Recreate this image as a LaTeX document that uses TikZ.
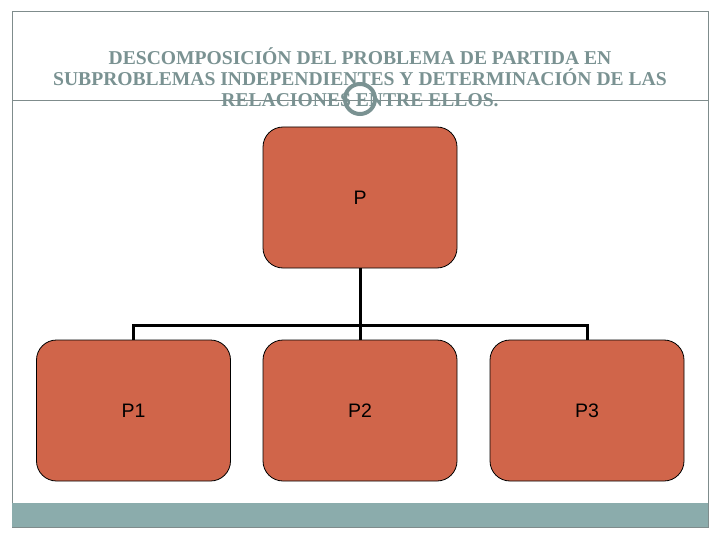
\documentclass[tikz,border=0pt]{standalone}
\usepackage{fontspec}
\setmainfont{Liberation Serif}
\newfontfamily\boxfont{Liberation Sans}
\definecolor{framegray}{HTML}{7F8C8C}
\definecolor{titlegray}{HTML}{7A9292}
\definecolor{boxred}{HTML}{D0654A}
\definecolor{bandteal}{HTML}{8BACAC}
\begin{document}
\begin{tikzpicture}[x=1pt,y=-1pt,
  pbox/.style={draw=black, line width=0.8pt, fill=boxred, rounded corners=20pt,
    minimum width=194pt, minimum height=141pt, inner sep=0pt,
    font=\boxfont\fontsize{19.5}{22}\selectfont},
  conn/.style={draw=black, line width=3pt}]
\useasboundingbox (0,0) rectangle (720,540);
\fill[white] (0,0) rectangle (720,540);
% frame
\draw[framegray, line width=1pt] (12,12) rectangle (708,527);
\draw[framegray, line width=1pt] (12,100.5) -- (708,100.5);
\fill[bandteal] (12,503) rectangle (708,527);
% title
\node[text=titlegray, font=\bfseries\fontsize{19.6}{21}\selectfont, align=center, anchor=center] (title) at (360,77)
 {DESCOMPOSICIÓN DEL PROBLEMA DE PARTIDA EN\\
  SUBPROBLEMAS INDEPENDIENTES Y DETERMINACIÓN DE LAS\\
  RELACIONES ENTRE ELLOS.};
\node[draw=titlegray, line width=4pt, circle, minimum size=30pt, inner sep=0pt] (ring) at (360,99) {};
% boxes
\node[pbox] (P) at (360,197.5) {P};
\node[pbox] (P1) at (133.5,410.5) {P1};
\node[pbox] (P2) at (360,410.5) {P2};
\node[pbox] (P3) at (587,410.5) {P3};
\coordinate (J) at (360,325);
\draw[conn] (P.south) -- (J);
\draw[conn] (P1.north) |- (J);
\draw[conn] (P3.north) |- (J);
\draw[conn] (J) -- (P2.north);
\end{tikzpicture}
\end{document}
